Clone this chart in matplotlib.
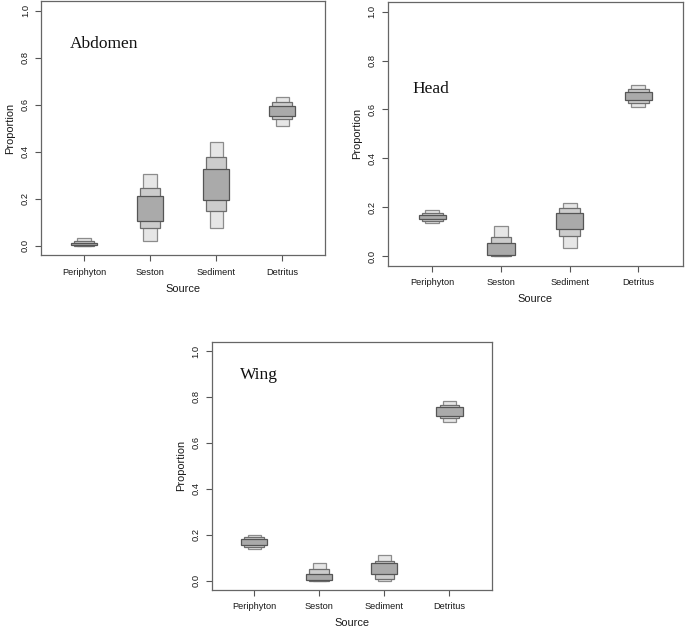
import matplotlib
matplotlib.use('Agg')
from matplotlib import pyplot as plt
from matplotlib.patches import Rectangle

sources = ['Periphyton', 'Seston', 'Sediment', 'Detritus']

# credible intervals (low, high) per source: 95%, 75%, 50%
abdomen_95 = [(0.000, 0.031), (0.021, 0.304), (0.074, 0.440), (0.508, 0.634)]
abdomen_75 = [(0.000, 0.020), (0.074, 0.244), (0.149, 0.376), (0.538, 0.610)]
abdomen_50 = [(0.002, 0.012), (0.106, 0.210), (0.193, 0.326), (0.551, 0.593)]

head_95 = [(0.135, 0.188), (0.000, 0.124), (0.034, 0.218), (0.609, 0.701)]
head_75 = [(0.143, 0.177), (0.001, 0.079), (0.082, 0.195), (0.628, 0.682)]
head_50 = [(0.153, 0.170), (0.004, 0.052), (0.112, 0.177), (0.640, 0.670)]

wing_95 = [(0.137, 0.198), (0.000, 0.076), (0.000, 0.112), (0.692, 0.784)]
wing_75 = [(0.148, 0.189), (0.001, 0.050), (0.010, 0.084), (0.707, 0.765)]
wing_50 = [(0.155, 0.182), (0.003, 0.031), (0.028, 0.076), (0.717, 0.755)]

levels = [(0.10, '#e6e6e6', '#8c8c8c'),
          (0.15, '#cccccc', '#6e6e6e'),
          (0.20, '#aaaaaa', '#555555')]

tick_font = {'family': 'Liberation Sans', 'size': 6.7}
label_font = {'family': 'Liberation Sans', 'size': 7.9}


def draw_panel(ax, intervals, title, title_xy):
    for (half_w, face, edge), ci in zip(levels, intervals):
        for i, (lo, hi) in enumerate(ci):
            ax.add_patch(Rectangle((i + 1 - half_w, lo), 2 * half_w, hi - lo,
                                   facecolor=face, edgecolor=edge, linewidth=0.9))
    ax.set_xlim(0.35, 4.65)
    ax.set_ylim(-0.04, 1.04)
    ax.set_xticks(range(1, 5))
    ax.set_xticklabels(sources, fontdict=tick_font)
    ax.set_yticks([0, 0.2, 0.4, 0.6, 0.8, 1.0])
    ax.set_yticklabels(['0.0', '0.2', '0.4', '0.6', '0.8', '1.0'], fontdict=tick_font,
                       rotation=90, va='center')
    ax.tick_params(length=4, width=0.8, color='#555555', pad=4, labelcolor='#1a1a1a')
    ax.tick_params(axis='x', pad=5)
    for s in ax.spines.values():
        s.set_color('#666666')
        s.set_linewidth(0.9)
    ax.set_xlabel('Source', fontdict=label_font, labelpad=5, color='#1a1a1a')
    ax.set_ylabel('Proportion', fontdict=label_font, labelpad=4, color='#1a1a1a')
    ax.text(title_xy[0], title_xy[1], title, transform=ax.transAxes,
            family='Liberation Serif', fontsize=12.5, color='#111111', va='center')


fig = plt.figure(figsize=(6.85, 6.3), dpi=100)
ax1 = fig.add_axes([0.060, 0.595, 0.4146, 0.403])
ax2 = fig.add_axes([0.566, 0.578, 0.431, 0.419])
ax3 = fig.add_axes([0.309, 0.0635, 0.409, 0.394])

draw_panel(ax1, [abdomen_95, abdomen_75, abdomen_50], 'Abdomen', (0.10, 0.83))
draw_panel(ax2, [head_95, head_75, head_50], 'Head', (0.085, 0.67))
draw_panel(ax3, [wing_95, wing_75, wing_50], 'Wing', (0.10, 0.865))

fig.savefig('out.png', dpi=100)
